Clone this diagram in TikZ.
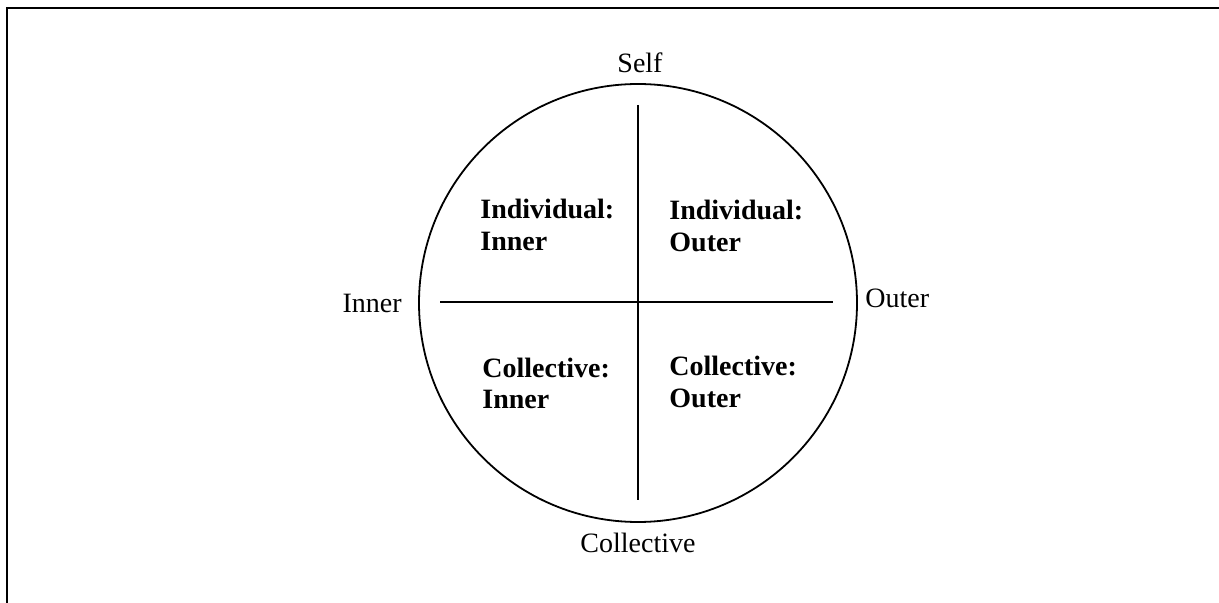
\documentclass[tikz,border=0pt]{standalone}
\usepackage{fontspec}
\setmainfont{Liberation Serif}
\begin{document}
\begin{tikzpicture}[x=0.5pt, y=-0.5pt, font=\fontsize{14}{16}\selectfont,
  lbl/.style={inner sep=0pt},
  quad/.style={inner sep=0pt, align=left, anchor=base west, font=\fontsize{14}{16}\selectfont\bfseries}]
  \useasboundingbox (0,0) rectangle (1219,603);
  % frame
  \draw[line width=1pt] (6.5,603) -- (6.5,8) -- (1219,8);
  % circle and axes
  \node[draw, circle, line width=0.9pt, minimum size=219pt, inner sep=0pt] (wheel) at (638,303) {};
  \coordinate (top) at (638,105);
  \coordinate (bottom) at (638,500);
  \coordinate (left) at (440,302);
  \coordinate (right) at (833,302);
  \draw[line width=0.9pt] (top) -- (bottom);
  \draw[line width=0.9pt] (left) -- (right);
  % axis labels
  \node[lbl, anchor=base] (self) at (640,73) {Self};
  \node[lbl, anchor=base] (collective) at (638,552) {Collective};
  \node[lbl, anchor=base east] (inner) at (402,313) {Inner};
  \node[lbl, anchor=base west] (outer) at (865,308) {Outer};
  % quadrants
  \node[quad] (indinner) at (480,251) {Individual:\\Inner};
  \node[quad] (indouter) at (669,252) {Individual:\\Outer};
  \node[quad] (colinner) at (482,409) {Collective:\\Inner};
  \node[quad] (colouter) at (669,408) {Collective:\\Outer};
\end{tikzpicture}
\end{document}
